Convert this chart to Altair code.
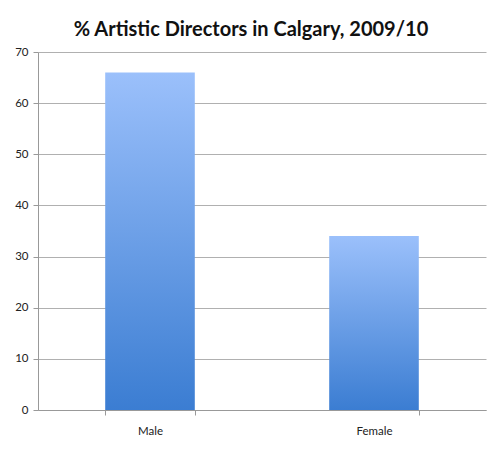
import altair as alt
import pandas as pd

categories = ["Male", "Female"]
values = [66, 34]
y_ticks = [0, 10, 20, 30, 40, 50, 60, 70]
title_text = "% Artistic Directors in Calgary, 2009/10"

df = pd.DataFrame({"gender": categories, "pct": values})

gradient = alt.Gradient(
    gradient="linear",
    stops=[
        alt.GradientStop(color="#3B7DD2", offset=0),
        alt.GradientStop(color="#9BC0FB", offset=1),
    ],
    x1=0, x2=0, y1=1, y2=0,
)

chart = (
    alt.Chart(df)
    .mark_bar(color=gradient)
    .encode(
        x=alt.X(
            "gender:N",
            sort=categories,
            title=None,
            scale=alt.Scale(paddingInner=0.6, paddingOuter=0.3),
            axis=alt.Axis(
                labelAngle=0,
                tickBand="extent",
                tickSize=5,
                tickColor="#999999",
                domainColor="#999999",
                labelPadding=10,
                labelFont="Lato",
                labelFontSize=11.5,
                labelColor="#222222",
                grid=False,
            ),
        ),
        y=alt.Y(
            "pct:Q",
            title=None,
            scale=alt.Scale(domain=[0, 70], nice=False),
            axis=alt.Axis(
                values=y_ticks,
                tickSize=5,
                tickColor="#999999",
                domainColor="#999999",
                gridColor="#b0b0b0",
                labelPadding=5,
                labelFont="Lato",
                labelFontSize=11.5,
                labelColor="#222222",
            ),
        ),
    )
    .properties(
        width=448,
        height=358,
        autosize=alt.AutoSizeParams(type="none"),
        padding={"left": 30, "top": 44, "right": 6, "bottom": 35},
        title=alt.TitleParams(
            text=title_text,
            font="Lato",
            fontSize=20,
            fontWeight="bold",
            color="#111111",
            anchor="middle",
            offset=6,
            dx=-11,
        ),
    )
    .configure_view(stroke=None)
)

chart.save("out.html", embed_options={"renderer": "svg", "actions": False})
